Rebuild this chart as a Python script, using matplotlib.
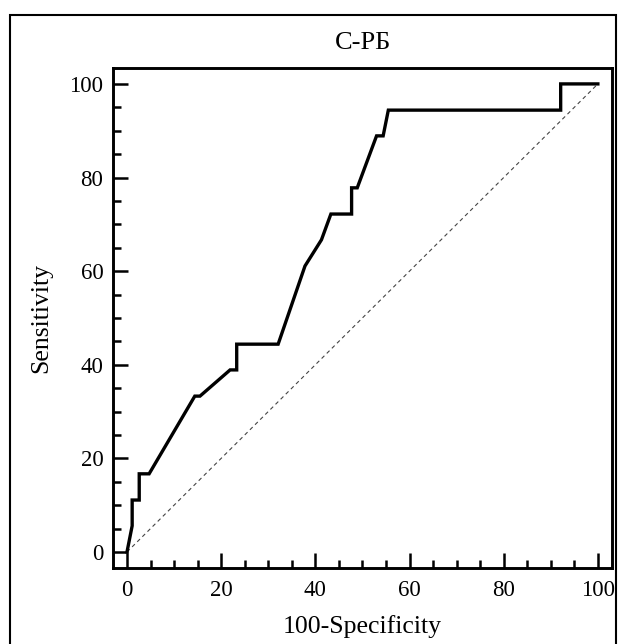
import matplotlib
matplotlib.use("Agg")
import matplotlib.pyplot as plt
from matplotlib.patches import Rectangle
from matplotlib.ticker import MultipleLocator

# ROC curve points (100-Specificity, Sensitivity)
fpr = [0, 1.1, 1.1, 2.6, 2.6, 4.7, 14.4, 15.5, 21.9, 23.3, 23.3, 32.1,
       37.8, 41.3, 43.3, 47.7, 47.7, 48.9, 53.0, 54.4, 55.5, 92.1, 92.1, 100]
tpr = [0, 5.6, 11.1, 11.1, 16.7, 16.7, 33.3, 33.3, 38.9, 38.9, 44.4, 44.4,
       61.1, 66.7, 72.2, 72.2, 77.8, 77.8, 88.9, 88.9, 94.4, 94.4, 100, 100]
diag = [0, 100]
tick_vals = [0, 20, 40, 60, 80, 100]

plt.rcParams['font.family'] = ['Liberation Serif', 'DejaVu Serif']

fig = plt.figure(figsize=(6.19, 6.44), dpi=100)
ax = fig.add_axes([113/619, 1-568/644, (612-113)/619, (568-68)/644])

ax.plot(diag, diag, color='#444444', lw=0.8, ls=(0, (3.5, 3)))
ax.plot(fpr, tpr, color='black', lw=2.4, solid_joinstyle='miter')

ax.set_xlim(-2.97, 103.0)
ax.set_ylim(-3.42, 103.4)
ax.set_xticks(tick_vals)
ax.set_yticks(tick_vals)
ax.xaxis.set_minor_locator(MultipleLocator(5))
ax.yaxis.set_minor_locator(MultipleLocator(5))
ax.tick_params(which='both', direction='in', top=False, right=False,
               labelsize=16.5, width=1.8)
ax.tick_params(axis='x', pad=9)
ax.tick_params(axis='y', pad=7)
ax.tick_params(which='major', length=11)
ax.tick_params(which='minor', length=5.5)
for s in ax.spines.values():
    s.set_linewidth(2.1)

ax.set_xlabel('100-Specificity', fontsize=18.5, labelpad=10)
ax.set_ylabel('Sensitivity', fontsize=18.5, labelpad=12)
ax.set_title('С-РБ', fontsize=19, pad=14)

fig.patches.append(Rectangle((10/619, -0.05), (616-10)/619, 1.05 - 15/644,
                             transform=fig.transFigure, fill=False,
                             edgecolor='black', lw=1.5))

fig.savefig('out.png', dpi=100)
